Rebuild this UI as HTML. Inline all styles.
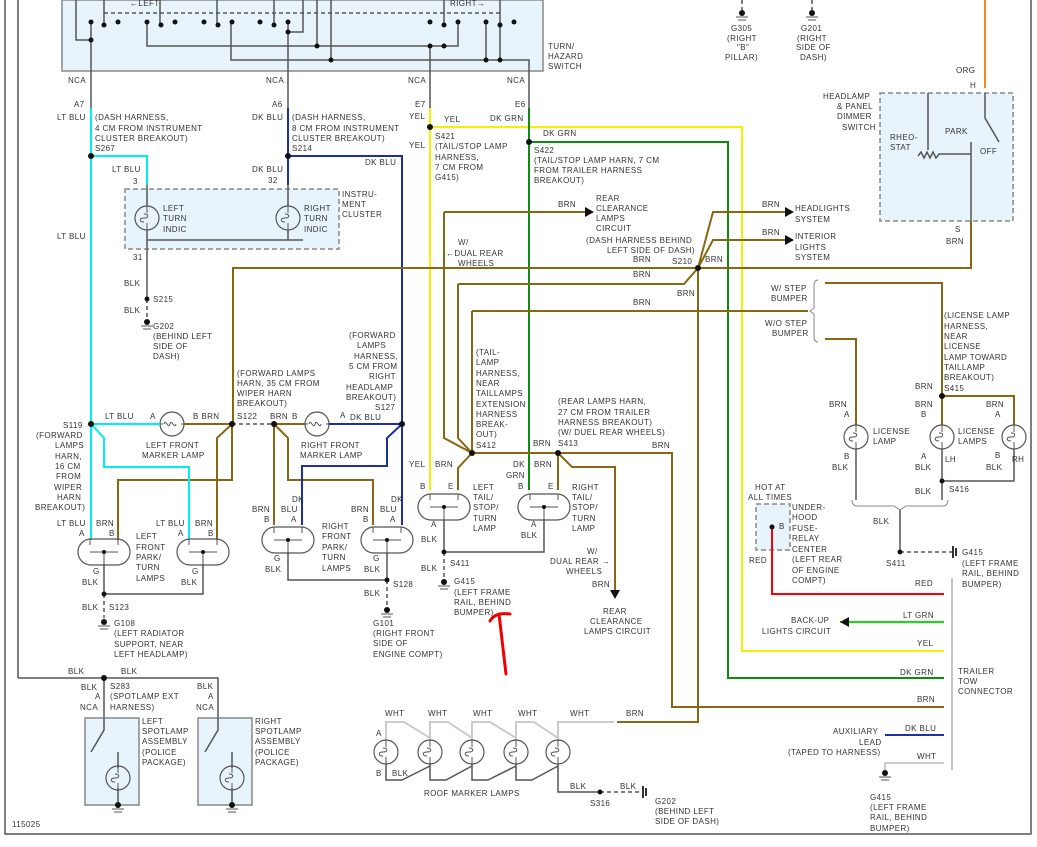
<!DOCTYPE html>
<html><head><meta charset="utf-8"><style>
html,body{margin:0;padding:0;background:#fff}
svg{display:block}
text{font-family:"Liberation Sans",sans-serif;font-size:8px;fill:#333;letter-spacing:0.4px}
.g{stroke:#555;stroke-width:1.5;fill:none}
.br{stroke:#876614;stroke-width:2;fill:none}
.cy{stroke:#00f0f0;stroke-width:2;fill:none}
.db{stroke:#1c2fa3;stroke-width:2;fill:none}
.ye{stroke:#f2f200;stroke-width:2;fill:none}
.gr{stroke:#108a10;stroke-width:2;fill:none}
.rd{stroke:#f00;stroke-width:2;fill:none}
.wh{stroke:#ccc;stroke-width:2;fill:none}
.dash{stroke:#555;stroke-width:1.5;fill:none;stroke-dasharray:4,3}
.box{fill:#e8f4fb;stroke:#888;stroke-width:1.5}
.dbox{fill:#e8f4fb;stroke:#888;stroke-width:1.5;stroke-dasharray:5,3}
</style></head><body>
<svg width="1037" height="847" viewBox="0 0 1037 847" xmlns="http://www.w3.org/2000/svg">
<defs>
<g id="bulb"><circle r="12" fill="none" stroke="#555" stroke-width="1.2"/><path d="M0,-12V-5M0,12V5M-3,-4c5,0 5,4 0,4c-5,0 -5,4 0,4" fill="none" stroke="#555"/></g>
<g id="mbulb"><circle r="12" fill="none" stroke="#555" stroke-width="1.2"/><path d="M-12,0h3M12,0h-3M-8,0c2,-6 4,6 6,0c2,-6 4,6 6,0" fill="none" stroke="#555"/></g>
<g id="oval"><rect x="-26" y="-13" width="52" height="26" rx="13" fill="none" stroke="#555" stroke-width="1.2"/><path d="M-14,-13v6M14,-13v6M0,12V0M-14,0h28" fill="none" stroke="#555"/><circle cx="0" cy="0" r="2" fill="#111"/></g>
<g id="gnd"><circle r="3" fill="#111"/><path d="M-6,4h12M-4,7h8" stroke="#555"/></g>
</defs>
<!-- borders -->
<path d="M5,0V834H1031V0M18,0V678" class="g"/>
<!-- switch box -->
<rect x="62" y="0" width="481" height="71" class="box"/>
<path d="M104,13H500" class="dash"/>
<path d="M76,0V40H91M91,22V108M147,22V46H458V22M231,22V60H529V108M288,22V108M288,32H303V0M317,0V46M331,0V60M430,46V108M486,22V60M500,22V60" class="g"/>
<path d="M104,0V25M160,0V25M217,0V25M274,0V25M444,0V25M500,0V25" class="g"/>
<g fill="#111"><circle cx="91" cy="22" r="2.5"/><circle cx="104" cy="25" r="2.5"/><circle cx="118" cy="22" r="2.5"/><circle cx="147" cy="22" r="2.5"/><circle cx="161" cy="25" r="2.5"/><circle cx="175" cy="22" r="2.5"/><circle cx="204" cy="22" r="2.5"/><circle cx="218" cy="25" r="2.5"/><circle cx="232" cy="22" r="2.5"/><circle cx="260" cy="22" r="2.5"/><circle cx="274" cy="25" r="2.5"/><circle cx="288" cy="22" r="2.5"/><circle cx="430" cy="22" r="2.5"/><circle cx="444" cy="25" r="2.5"/><circle cx="458" cy="22" r="2.5"/><circle cx="486" cy="22" r="2.5"/><circle cx="500" cy="25" r="2.5"/><circle cx="514" cy="22" r="2.5"/><circle cx="91" cy="40" r="2.5"/><circle cx="288" cy="32" r="2.5"/><circle cx="317" cy="46" r="2.5"/><circle cx="430" cy="46" r="2.5"/><circle cx="444" cy="46" r="2.5"/><circle cx="331" cy="60" r="2.5"/><circle cx="486" cy="60" r="2.5"/><circle cx="500" cy="60" r="2.5"/></g>
<text x="130" y="6">←LEFT</text><text x="450" y="6">RIGHT→</text>
<text x="548" y="49">TURN/</text><text x="548" y="59">HAZARD</text><text x="548" y="69">SWITCH</text>
<text x="68" y="83">NCA</text><text x="266" y="83">NCA</text><text x="408" y="83">NCA</text><text x="507" y="83">NCA</text>
<text x="74" y="107">A7</text><text x="272" y="107">A6</text><text x="415" y="107">E7</text><text x="515" y="107">E6</text>
<!-- wires top -->
<path d="M91,108V424M91,156H147V185" class="cy"/>
<path d="M288,108V156V185M288,156H402V424" class="db"/>
<path d="M430,108V490M430,127H742V651H944" class="ye"/>
<path d="M529,108V490M529,142H728V678H944" class="gr"/>
<g fill="#111"><circle cx="91" cy="156" r="3"/><circle cx="288" cy="156" r="3"/><circle cx="430" cy="127" r="3"/><circle cx="529" cy="142" r="3"/></g>
<text x="57" y="120">LT BLU</text><text x="95" y="120">(DASH HARNESS,</text><text x="95" y="131">4 CM FROM INSTRUMENT</text><text x="95" y="141">CLUSTER BREAKOUT)</text><text x="95" y="151">S267</text>
<text x="252" y="120">DK BLU</text><text x="292" y="120">(DASH HARNESS,</text><text x="292" y="131">8 CM FROM INSTRUMENT</text><text x="292" y="141">CLUSTER BREAKOUT)</text><text x="292" y="151">S214</text>
<text x="409" y="119">YEL</text><text x="444" y="122">YEL</text><text x="490" y="121">DK GRN</text><text x="543" y="136">DK GRN</text>
<text x="435" y="139">S421</text><text x="435" y="149">(TAIL/STOP LAMP</text><text x="435" y="160">HARNESS,</text><text x="435" y="170">7 CM FROM</text><text x="435" y="180">G415)</text><text x="409" y="148">YEL</text>
<text x="534" y="153">S422</text><text x="534" y="163">(TAIL/STOP LAMP HARN, 7 CM</text><text x="534" y="173">FROM TRAILER HARNESS</text><text x="534" y="183">BREAKOUT)</text>
<!-- instrument cluster -->
<rect x="125" y="189" width="214" height="60" class="dbox"/>
<use href="#bulb" x="147" y="218"/><use href="#bulb" x="288" y="218"/>
<path d="M147,185V206M288,185V206M147,230V262M288,230V240M147,240H303" class="g"/>
<text x="112" y="172">LT BLU</text><text x="133" y="184">3</text><text x="252" y="172">DK BLU</text><text x="268" y="183">32</text><text x="365" y="165">DK BLU</text>
<text x="342" y="197">INSTRU-</text><text x="342" y="207">MENT</text><text x="342" y="217">CLUSTER</text>
<text x="163" y="211">LEFT</text><text x="163" y="221">TURN</text><text x="163" y="232">INDIC</text>
<text x="304" y="211">RIGHT</text><text x="304" y="221">TURN</text><text x="304" y="232">INDIC</text>
<text x="57" y="239">LT BLU</text><text x="133" y="260">31</text>
<path d="M147,262V299" class="g"/><path d="M147,299V318" class="dash"/><circle cx="147" cy="299" r="2.5" fill="#111"/><use href="#gnd" x="147" y="322"/>
<text x="124" y="286">BLK</text><text x="153" y="302">S215</text><text x="124" y="313">BLK</text><text x="153" y="329">G202</text><text x="153" y="339">(BEHIND LEFT</text><text x="153" y="349">SIDE OF</text><text x="153" y="359">DASH)</text>
<!-- brown network -->
<path d="M233,424V268H971V221M698,268L713,212H785M698,268L713,240H785M444,212H585M444,212V438L472,453M458,284H684L698,268M458,284V438L472,453M472,311H808M472,311V453M698,268V722H617M825,283H942V396H1014V425M942,396V425M825,339H856V425M472,453H672V707H944M472,453L458,468V490M558,453L558,490M558,453L572,467H615V592" class="br"/>
<path d="M785,207l9,5l-9,5zM785,235l9,5l-9,5zM585,207l9,5l-9,5zM610,590l5,9l5,-9z" fill="#111"/>
<g fill="#111"><circle cx="698" cy="268" r="3"/><circle cx="472" cy="453" r="3"/><circle cx="558" cy="453" r="3"/><circle cx="942" cy="396" r="3"/></g>
<text x="558" y="207">BRN</text><text x="596" y="201">REAR</text><text x="596" y="211">CLEARANCE</text><text x="596" y="221">LAMPS</text><text x="596" y="231">CIRCUIT</text><text x="586" y="243">(DASH HARNESS BEHIND</text><text x="607" y="253">LEFT SIDE OF DASH)</text>
<text x="633" y="262">BRN</text><text x="672" y="264">S210</text><text x="705" y="262">BRN</text><text x="633" y="277">BRN</text><text x="677" y="296">BRN</text><text x="633" y="305">BRN</text>
<text x="458" y="245">W/</text><text x="446" y="256">←DUAL REAR</text><text x="458" y="266">WHEELS</text>
<text x="762" y="207">BRN</text><text x="795" y="211">HEADLIGHTS</text><text x="795" y="222">SYSTEM</text>
<text x="762" y="235">BRN</text><text x="795" y="239">INTERIOR</text><text x="795" y="250">LIGHTS</text><text x="795" y="260">SYSTEM</text>
<path d="M818,280q-4,0 -4,6v22l-4,3l4,3v22q0,6 4,6" stroke="#888" fill="none"/>
<text x="771" y="291">W/ STEP</text><text x="771" y="301">BUMPER</text><text x="765" y="326">W/O STEP</text><text x="772" y="336">BUMPER</text>
<text x="944" y="318">(LICENSE LAMP</text><text x="944" y="329">HARNESS,</text><text x="944" y="339">NEAR</text><text x="944" y="349">LICENSE</text><text x="944" y="360">LAMP TOWARD</text><text x="944" y="370">TAILLAMP</text><text x="944" y="380">BREAKOUT)</text><text x="944" y="391">S415</text><text x="915" y="389">BRN</text>
<!-- dimmer -->
<path d="M985,0V88" stroke="#f08a20" stroke-width="2" fill="none"/>
<rect x="880" y="93" width="133" height="128" class="dbox"/>
<path d="M928,93V150M918,156l3,-4l3,6l3,-6l3,6l3,-6l3,6l3,-4H971M971,142V221M985,93V118L999,142" class="g"/>
<text x="823" y="99">HEADLAMP</text><text x="837" y="109">&amp; PANEL</text><text x="837" y="119">DIMMER</text><text x="842" y="130">SWITCH</text>
<text x="890" y="140">RHEO-</text><text x="890" y="150">STAT</text><text x="945" y="134">PARK</text><text x="980" y="154">OFF</text>
<text x="956" y="73">ORG</text><text x="970" y="88">H</text><text x="955" y="232">S</text><text x="946" y="244">BRN</text>
<!-- top grounds -->
<path d="M742,0V10M812,0V10" class="dash"/><use href="#gnd" x="742" y="13"/><use href="#gnd" x="812" y="13"/>
<text x="731" y="31">G305</text><text x="727" y="41">(RIGHT</text><text x="737" y="50">"B"</text><text x="725" y="60">PILLAR)</text>
<text x="801" y="31">G201</text><text x="797" y="41">(RIGHT</text><text x="796" y="50">SIDE OF</text><text x="800" y="60">DASH)</text>
<!-- front marker & park lamps -->
<use href="#mbulb" x="172" y="424"/><use href="#mbulb" x="317" y="424"/>
<path d="M91,424H160" class="cy"/><path d="M184,424H232M232,424L217,438V540M232,424V480H118V540M274,424H305M274,424V525M274,424L288,438V480H373V525" class="br"/>
<path d="M232,424H274" class="dash"/>
<path d="M329,424H402M402,424V525M402,424L387,438V466H302V525" class="db"/>
<path d="M91,424V540M91,424L104,438V467H189V540" class="cy"/>
<g fill="#111"><circle cx="91" cy="424" r="3"/><circle cx="232" cy="424" r="3"/><circle cx="274" cy="424" r="3"/><circle cx="402" cy="424" r="3"/></g>
<text x="349" y="338">(FORWARD</text><text x="357" y="348">LAMPS</text><text x="354" y="359">HARNESS,</text><text x="349" y="369">5 CM FROM</text><text x="369" y="379">RIGHT</text><text x="346" y="390">HEADLAMP</text><text x="346" y="400">BREAKOUT)</text><text x="375" y="410">S127</text>
<text x="237" y="376">(FORWARD LAMPS</text><text x="237" y="386">HARN, 35 CM FROM</text><text x="237" y="396">WIPER HARN</text><text x="237" y="406">BREAKOUT)</text><text x="237" y="419">S122</text>
<text x="270" y="419">BRN</text><text x="292" y="419">B</text><text x="340" y="418">A</text><text x="350" y="420">DK BLU</text>
<text x="105" y="419">LT BLU</text><text x="150" y="419">A</text><text x="193" y="419">B BRN</text>
<text x="63" y="428">S119</text><text x="36" y="438">(FORWARD</text><text x="55" y="448">LAMPS</text><text x="55" y="459">HARN,</text><text x="55" y="469">16 CM</text><text x="56" y="479">FROM</text><text x="54" y="490">WIPER</text><text x="57" y="500">HARN</text><text x="35" y="510">BREAKOUT)</text>
<text x="146" y="448">LEFT FRONT</text><text x="142" y="458">MARKER LAMP</text><text x="301" y="448">RIGHT FRONT</text><text x="300" y="458">MARKER LAMP</text>
<use href="#oval" x="104" y="552"/><use href="#oval" x="203" y="552"/>
<path d="M104,564V594M203,564V594H104" class="g"/><path d="M104,594V618" class="dash"/><circle cx="104" cy="594" r="2.5" fill="#111"/><use href="#gnd" x="104" y="622"/>
<text x="57" y="526">LT BLU</text><text x="96" y="526">BRN</text><text x="79" y="536">A</text><text x="109" y="536">B</text>
<text x="156" y="526">LT BLU</text><text x="195" y="526">BRN</text><text x="178" y="536">A</text><text x="208" y="536">B</text>
<text x="136" y="539">LEFT</text><text x="136" y="550">FRONT</text><text x="136" y="560">PARK/</text><text x="136" y="570">TURN</text><text x="136" y="581">LAMPS</text>
<text x="93" y="574">G</text><text x="82" y="585">BLK</text><text x="192" y="574">G</text><text x="181" y="585">BLK</text><text x="82" y="610">BLK</text><text x="109" y="610">S123</text>
<text x="114" y="626">G108</text><text x="114" y="636">(LEFT RADIATOR</text><text x="114" y="647">SUPPORT, NEAR</text><text x="114" y="657">LEFT HEADLAMP)</text>
<use href="#oval" x="288" y="540"/><use href="#oval" x="387" y="540"/>
<path d="M288,552V580H387M387,552V580" class="g"/><path d="M387,580V606" class="dash"/><circle cx="387" cy="580" r="2.5" fill="#111"/><use href="#gnd" x="387" y="610"/>
<text x="292" y="502">DK</text><text x="252" y="512">BRN</text><text x="281" y="512">BLU</text><text x="264" y="522">B</text><text x="291" y="522">A</text>
<text x="391" y="502">DK</text><text x="351" y="512">BRN</text><text x="380" y="512">BLU</text><text x="363" y="522">B</text><text x="390" y="522">A</text>
<text x="322" y="529">RIGHT</text><text x="322" y="539">FRONT</text><text x="322" y="550">PARK/</text><text x="322" y="560">TURN</text><text x="322" y="571">LAMPS</text>
<text x="274" y="561">G</text><text x="265" y="572">BLK</text><text x="373" y="561">G</text><text x="364" y="572">BLK</text><text x="393" y="587">S128</text><text x="364" y="596">BLK</text>
<text x="373" y="626">G101</text><text x="373" y="636">(RIGHT FRONT</text><text x="373" y="646">SIDE OF</text><text x="373" y="657">ENGINE COMPT)</text>
<!-- spotlamps -->
<path d="M18,678H218V718M104,678V718" class="g"/><circle cx="104" cy="678" r="3" fill="#111"/>
<rect x="85" y="718" width="54" height="87" class="box"/><rect x="198" y="718" width="54" height="87" class="box"/>
<path d="M104,718V730L91,752M218,718V730L205,752M118,752V768M118,788V805M232,752V768M232,788V805" class="g"/>
<use href="#bulb" x="118" y="778"/><use href="#bulb" x="232" y="778"/><use href="#gnd" x="118" y="805"/><use href="#gnd" x="232" y="805"/>
<text x="68" y="674">BLK</text><text x="121" y="674">BLK</text><text x="81" y="690">BLK</text><text x="110" y="689">S283</text><text x="95" y="699">A</text><text x="110" y="699">(SPOTLAMP EXT</text><text x="110" y="710">HARNESS)</text><text x="80" y="710">NCA</text>
<text x="142" y="724">LEFT</text><text x="142" y="734">SPOTLAMP</text><text x="142" y="744">ASSEMBLY</text><text x="142" y="755">(POLICE</text><text x="142" y="765">PACKAGE)</text>
<text x="197" y="689">BLK</text><text x="208" y="699">A</text><text x="196" y="710">NCA</text>
<text x="255" y="724">RIGHT</text><text x="255" y="734">SPOTLAMP</text><text x="255" y="744">ASSEMBLY</text><text x="255" y="755">(POLICE</text><text x="255" y="765">PACKAGE)</text>
<text x="12" y="827">115025</text>
<!-- tail lamps -->
<use href="#oval" x="444" y="507"/><use href="#oval" x="544" y="507"/>
<path d="M444,519V552H544V519" class="g"/><path d="M444,552V578" class="dash"/><circle cx="444" cy="552" r="2.5" fill="#111"/><use href="#gnd" x="444" y="582"/>
<text x="476" y="355">(TAIL-</text><text x="476" y="365">LAMP</text><text x="476" y="376">HARNESS,</text><text x="476" y="386">NEAR</text><text x="476" y="396">TAILLAMPS</text><text x="476" y="407">EXTENSION</text><text x="476" y="417">HARNESS</text><text x="476" y="427">BREAK-</text><text x="476" y="437">OUT)</text><text x="476" y="448">S412</text>
<text x="558" y="404">(REAR LAMPS HARN,</text><text x="558" y="415">27 CM FROM TRAILER</text><text x="558" y="425">HARNESS BREAKOUT)</text><text x="558" y="435">(W/ DUEL REAR WHEELS)</text><text x="558" y="446">S413</text><text x="533" y="446">BRN</text><text x="652" y="448">BRN</text>
<text x="409" y="467">YEL</text><text x="435" y="467">BRN</text><text x="513" y="467">DK</text><text x="506" y="478">GRN</text><text x="534" y="467">BRN</text>
<text x="420" y="489">B</text><text x="448" y="489">E</text><text x="518" y="489">B</text><text x="548" y="489">E</text>
<text x="473" y="490">LEFT</text><text x="473" y="500">TAIL/</text><text x="473" y="510">STOP/</text><text x="473" y="521">TURN</text><text x="473" y="531">LAMP</text>
<text x="572" y="490">RIGHT</text><text x="572" y="500">TAIL/</text><text x="572" y="510">STOP/</text><text x="572" y="521">TURN</text><text x="572" y="531">LAMP</text>
<text x="431" y="527">A</text><text x="421" y="542">BLK</text><text x="531" y="527">A</text><text x="521" y="538">BLK</text><text x="450" y="566">S411</text><text x="421" y="571">BLK</text>
<text x="454" y="584">G415</text><text x="454" y="595">(LEFT FRAME</text><text x="454" y="605">RAIL, BEHIND</text><text x="454" y="615">BUMPER)</text>
<text x="587" y="554">W/</text><text x="550" y="564">DUAL REAR →</text><text x="566" y="574">WHEELS</text><text x="592" y="587">BRN</text>
<text x="603" y="614">REAR</text><text x="590" y="624">CLEARANCE</text><text x="584" y="634">LAMPS CIRCUIT</text>
<path d="M506,674Q502,640 499,614M490,621Q495,612 510,614" stroke="#e00" stroke-width="3" fill="none" stroke-linecap="round"/>
<!-- license lamps -->
<use href="#bulb" x="856" y="437"/><use href="#bulb" x="942" y="437"/><use href="#bulb" x="1014" y="437"/>
<path d="M856,449V500M942,449V500M942,481H1014V449" class="g"/><circle cx="942" cy="481" r="2.5" fill="#111"/>
<path d="M852,500q0,6 6,6H894l6,4l6,-4H942q6,0 6,-6" stroke="#888" fill="none"/>
<path d="M900,510V552" class="g"/><path d="M900,552H952" class="dash"/><circle cx="900" cy="552" r="2.5" fill="#111"/><path d="M953,546v12M956,548v8" stroke="#333" stroke-width="2"/>
<text x="829" y="407">BRN</text><text x="844" y="417">A</text><text x="873" y="434">LICENSE</text><text x="873" y="444">LAMP</text><text x="844" y="459">B</text><text x="832" y="470">BLK</text>
<text x="915" y="407">BRN</text><text x="921" y="417">B</text><text x="958" y="434">LICENSE</text><text x="958" y="444">LAMPS</text><text x="921" y="459">A</text><text x="945" y="462">LH</text><text x="915" y="470">BLK</text>
<text x="986" y="407">BRN</text><text x="995" y="417">A</text><text x="995" y="458">B</text><text x="1012" y="462">RH</text><text x="986" y="470">BLK</text>
<text x="915" y="494">BLK</text><text x="949" y="492">S416</text><text x="873" y="524">BLK</text><text x="886" y="566">S411</text>
<text x="962" y="555">G415</text><text x="962" y="566">(LEFT FRAME</text><text x="962" y="576">RAIL, BEHIND</text><text x="962" y="587">BUMPER)</text>
<!-- fuse / trailer -->
<rect x="756" y="504" width="34" height="46" class="dbox"/>
<path d="M772,527V594H944" class="rd"/><circle cx="772" cy="527" r="2.5" fill="#111"/>
<path d="M840,622H944" stroke="#10e010" stroke-width="2"/><path d="M840,622l9,-5v10z" fill="#111"/>
<path d="M885,735H944" class="db"/><path d="M885,770V763H944" class="wh"/><use href="#gnd" x="885" y="773"/>
<path d="M952,578V770" stroke="#888"/>
<text x="755" y="490">HOT AT</text><text x="748" y="500">ALL TIMES</text><text x="779" y="529">B</text>
<text x="792" y="510">UNDER-</text><text x="792" y="520">HOOD</text><text x="792" y="531">FUSE-</text><text x="792" y="541">RELAY</text><text x="792" y="552">CENTER</text><text x="792" y="562">(LEFT REAR</text><text x="792" y="573">OF ENGINE</text><text x="792" y="583">COMPT)</text><text x="749" y="563">RED</text>
<text x="915" y="586">RED</text><text x="903" y="618">LT GRN</text><text x="791" y="623">BACK-UP</text><text x="762" y="634">LIGHTS CIRCUIT</text>
<text x="917" y="646">YEL</text><text x="900" y="675">DK GRN</text><text x="917" y="702">BRN</text>
<text x="958" y="674">TRAILER</text><text x="958" y="684">TOW</text><text x="958" y="694">CONNECTOR</text>
<text x="833" y="734">AUXILIARY</text><text x="859" y="745">LEAD</text><text x="788" y="755">(TAPED TO HARNESS)</text><text x="905" y="731">DK BLU</text><text x="917" y="759">WHT</text>
<text x="870" y="800">G415</text><text x="870" y="810">(LEFT FRAME</text><text x="870" y="820">RAIL, BEHIND</text><text x="870" y="831">BUMPER)</text>
<!-- roof markers -->
<path d="M386,740V722H404L430,738M430,740V722H448L472,738M472,740V722H490L516,738M516,740V722H534L558,738M558,740V722H614" class="wh"/>
<use href="#bulb" x="386" y="752"/><use href="#bulb" x="430" y="752"/><use href="#bulb" x="472" y="752"/><use href="#bulb" x="516" y="752"/><use href="#bulb" x="558" y="752"/>
<path d="M386,764V780H402L430,766M430,764V780H446L472,766M472,764V780H488L516,766M516,764V780H532L558,766M558,764V792H600" class="g"/>
<path d="M600,792H640" class="dash"/><circle cx="600" cy="792" r="2.5" fill="#111"/><path d="M643,786v12M646,788v8" stroke="#333" stroke-width="2"/>
<text x="385" y="716">WHT</text><text x="428" y="716">WHT</text><text x="473" y="716">WHT</text><text x="518" y="716">WHT</text><text x="570" y="716">WHT</text><text x="626" y="716">BRN</text>
<text x="376" y="736">A</text><text x="376" y="776">B</text><text x="392" y="776">BLK</text>
<text x="424" y="796">ROOF MARKER LAMPS</text><text x="570" y="789">BLK</text><text x="620" y="789">BLK</text><text x="590" y="806">S316</text>
<text x="655" y="804">G202</text><text x="655" y="814">(BEHIND LEFT</text><text x="655" y="824">SIDE OF DASH)</text>
</svg>
</body></html>
